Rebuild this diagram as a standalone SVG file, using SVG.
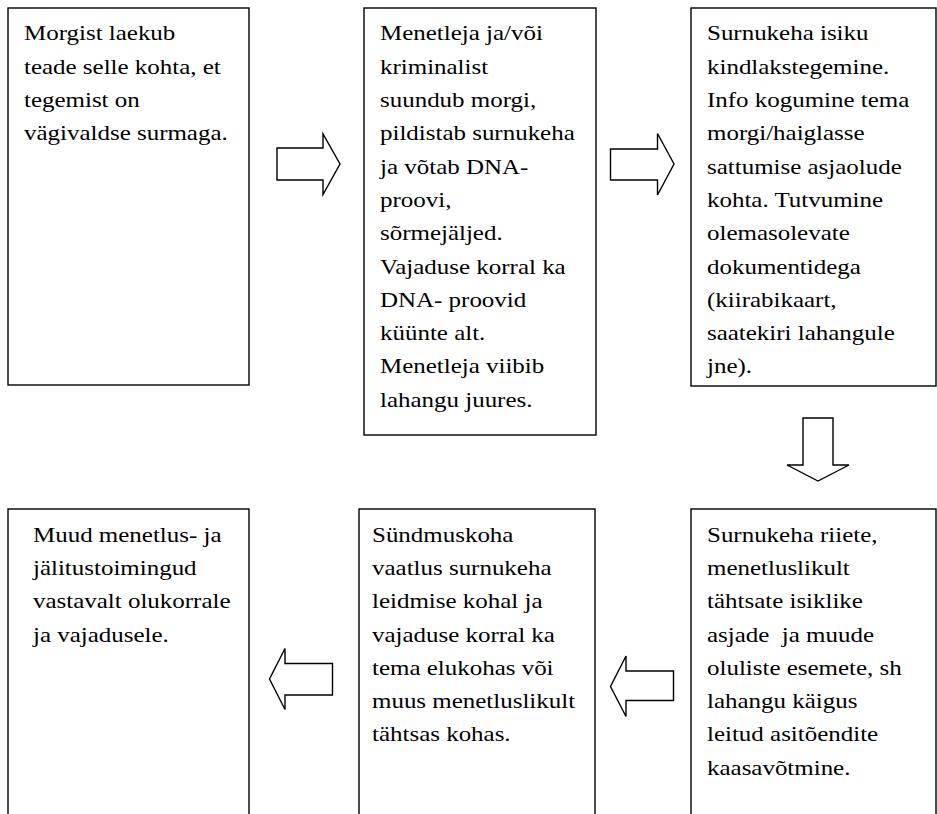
<svg xmlns="http://www.w3.org/2000/svg" width="937" height="814" viewBox="0 0 937 814">
  <style>
    .box { fill: #fff; stroke: #000; stroke-width: 1.4; }
    .arrow { fill: #fff; stroke: #000; stroke-width: 1.4; stroke-linejoin: miter; }
    text { font-family: 'Liberation Serif', 'Times New Roman', 'DejaVu Serif', serif; font-size: 22px; fill: #000; white-space: pre; }
  </style>
  <rect width="937" height="814" fill="#fff"/>

  <!-- Step 1 -->
  <g id="step1">
    <rect class="box" x="8" y="8" width="241" height="377"/>
    <g transform="translate(24 0) scale(1.135 1)">
      <text><tspan x="0" y="40.5">Morgist laekub</tspan><tspan x="0" y="73.8">teade selle kohta, et</tspan><tspan x="0" y="107.1">tegemist on</tspan><tspan x="0" y="140.4">vägivaldse surmaga.</tspan></text>
    </g>
  </g>

  <!-- Step 2 -->
  <g id="step2">
    <rect class="box" x="364" y="8" width="232" height="427"/>
    <g transform="translate(380 0) scale(1.135 1)">
      <text><tspan x="0" y="40.5">Menetleja ja/või</tspan><tspan x="0" y="73.8">kriminalist</tspan><tspan x="0" y="107.1">suundub morgi,</tspan><tspan x="0" y="140.4">pildistab surnukeha</tspan><tspan x="0" y="173.7">ja võtab DNA-</tspan><tspan x="0" y="207">proovi,</tspan><tspan x="0" y="240.3">sõrmejäljed.</tspan><tspan x="0" y="273.6">Vajaduse korral ka</tspan><tspan x="0" y="306.9">DNA- proovid</tspan><tspan x="0" y="340.2">küünte alt.</tspan><tspan x="0" y="373.5">Menetleja viibib</tspan><tspan x="0" y="406.8">lahangu juures.</tspan></text>
    </g>
  </g>

  <!-- Step 3 -->
  <g id="step3">
    <rect class="box" x="691" y="8" width="245" height="378"/>
    <g transform="translate(707 0) scale(1.135 1)">
      <text><tspan x="0" y="40.5">Surnukeha isiku</tspan><tspan x="0" y="73.8">kindlakstegemine.</tspan><tspan x="0" y="107.1">Info kogumine tema</tspan><tspan x="0" y="140.4">morgi/haiglasse</tspan><tspan x="0" y="173.7">sattumise asjaolude</tspan><tspan x="0" y="207">kohta. Tutvumine</tspan><tspan x="0" y="240.3">olemasolevate</tspan><tspan x="0" y="273.6">dokumentidega</tspan><tspan x="0" y="306.9">(kiirabikaart,</tspan><tspan x="0" y="340.2">saatekiri lahangule</tspan><tspan x="0" y="373.5">jne).</tspan></text>
    </g>
  </g>

  <!-- Step 4 -->
  <g id="step4">
    <rect class="box" x="691" y="509" width="245" height="330"/>
    <g transform="translate(707 0) scale(1.135 1)">
      <text><tspan x="0" y="541.7">Surnukeha riiete,</tspan><tspan x="0" y="575">menetluslikult</tspan><tspan x="0" y="608.3">tähtsate isiklike</tspan><tspan x="0" y="641.6">asjade  ja muude</tspan><tspan x="0" y="674.9">oluliste esemete, sh</tspan><tspan x="0" y="708.2">lahangu käigus</tspan><tspan x="0" y="741.5">leitud asitõendite</tspan><tspan x="0" y="774.8">kaasavõtmine.</tspan></text>
    </g>
  </g>

  <!-- Step 5 -->
  <g id="step5">
    <rect class="box" x="359" y="509" width="236" height="330"/>
    <g transform="translate(372 0) scale(1.135 1)">
      <text><tspan x="0" y="541.7">Sündmuskoha</tspan><tspan x="0" y="575">vaatlus surnukeha</tspan><tspan x="0" y="608.3">leidmise kohal ja</tspan><tspan x="0" y="641.6">vajaduse korral ka</tspan><tspan x="0" y="674.9">tema elukohas või</tspan><tspan x="0" y="708.2">muus menetluslikult</tspan><tspan x="0" y="741.5">tähtsas kohas.</tspan></text>
    </g>
  </g>

  <!-- Step 6 -->
  <g id="step6">
    <rect class="box" x="8" y="509" width="241" height="330"/>
    <g transform="translate(33 0) scale(1.135 1)">
      <text><tspan x="0" y="541.7">Muud menetlus- ja</tspan><tspan x="0" y="575">jälitustoimingud</tspan><tspan x="0" y="608.3">vastavalt olukorrale</tspan><tspan x="0" y="641.6">ja vajadusele.</tspan></text>
    </g>
  </g>

  <!-- Block arrows between steps -->
  <g id="connectors">
    <polygon class="arrow" points="277,148 323,148 323,134 340,164 323,194.5 323,180 277,180"/>
    <polygon class="arrow" points="610.5,149 657.5,149 657.5,133.5 674,164 657.5,195 657.5,180 610.5,180"/>
    <polygon class="arrow" points="803,418 833,418 833,465 849,465 818,481 787,465 803,465"/>
    <polygon class="arrow" points="673.5,671 626,671 626,656 610.5,686.5 626,716.5 626,700.5 673.5,700.5"/>
    <polygon class="arrow" points="332.5,663.5 285,663.5 285,648.5 269.5,679 285,709.5 285,695 332.5,695"/>
  </g>
</svg>
